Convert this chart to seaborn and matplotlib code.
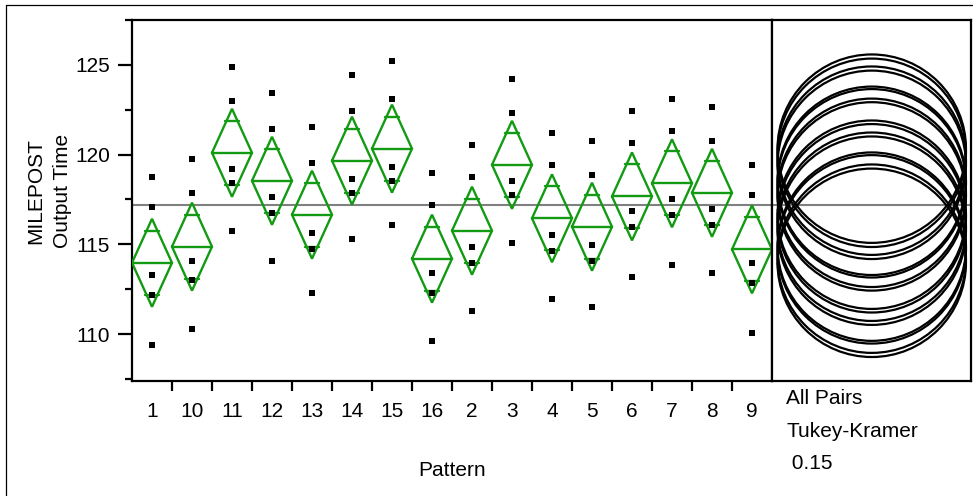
import numpy as np
import pandas as pd
import matplotlib
matplotlib.use("Agg")
import matplotlib.pyplot as plt
import seaborn as sns
from matplotlib.patches import Ellipse
from matplotlib.lines import Line2D
from matplotlib.ticker import FixedLocator

# ---------------- data ----------------
patterns = ["1", "10", "11", "12", "13", "14", "15", "16",
            "2", "3", "4", "5", "6", "7", "8", "9"]

output_time = [
    [118.77, 117.09, 113.29, 112.17, 109.41],   # 1
    [119.77, 117.88, 114.09, 113.01, 110.30],   # 10
    [124.89, 123.00, 119.21, 118.43, 115.76],   # 11
    [123.45, 121.44, 117.65, 116.76, 114.09],   # 12
    [121.55, 119.55, 115.65, 114.76, 112.30],   # 13
    [124.45, 122.44, 118.65, 117.87, 115.31],   # 14
    [125.23, 123.11, 119.32, 118.54, 116.09],   # 15
    [118.99, 117.21, 113.42, 112.30, 109.63],   # 16
    [120.55, 118.77, 114.87, 113.97, 111.30],   # 2
    [124.23, 122.33, 118.54, 117.76, 115.09],   # 3
    [121.22, 119.43, 115.54, 114.64, 111.97],   # 4
    [120.77, 118.88, 114.98, 114.09, 111.52],   # 5
    [122.44, 120.66, 116.87, 115.98, 113.20],   # 6
    [123.11, 121.33, 117.54, 116.65, 113.86],   # 7
    [122.67, 120.77, 116.98, 116.09, 113.42],   # 8
    [119.43, 117.76, 113.97, 112.86, 110.08],   # 9
]

group_means = [113.97, 114.87, 120.10, 118.54, 116.65, 119.66, 120.33, 114.20,
               115.76, 119.43, 116.45, 115.98, 117.67, 118.40, 117.87, 114.72]
ci_half = 2.45          # half height of the means diamonds
overlap_half = 1.78     # offset of the overlap marks
grand_mean = 117.21
circle_radius = 5.25    # comparison circle radius (y units)
y_major = [110, 115, 120, 125]
y_minor = [107.5, 112.5, 117.5, 122.5, 127.5]
y_range = (107.4, 127.5)
notes = ["All Pairs", "Tukey-Kramer", " 0.15"]

# ---------------- styling ----------------
sns.set_theme(style="white")
plt.rcParams['font.family'] = ['Liberation Sans', 'DejaVu Sans']
green = "#129a12"
FS = 15

W, H = 973, 496
fig = plt.figure(figsize=(W / 100, H / 100), dpi=100)
ax = fig.add_axes([132 / W, 1 - 380.7 / H, 640 / W, 360.7 / H])
ax2 = fig.add_axes([772 / W, 1 - 380.7 / H, 199.5 / W, 360.7 / H])

df = pd.DataFrame({
    "Pattern": np.repeat(patterns, [len(v) for v in output_time]),
    "Output Time": np.concatenate(output_time),
})

ax.axhline(grand_mean, color="#808080", lw=1.5, zorder=1)

sns.stripplot(data=df, x="Pattern", y="Output Time", order=patterns,
              jitter=False, marker="s", color="black", size=4.9,
              linewidth=0, ax=ax, zorder=4)

for i, m in enumerate(group_means):
    ax.plot([i - 0.5, i, i + 0.5, i, i - 0.5],
            [m, m + ci_half, m, m - ci_half, m],
            color=green, lw=1.7, zorder=3, solid_joinstyle="miter")
    ax.plot([i - 0.5, i + 0.5], [m, m], color=green, lw=1.7, zorder=3)
    w = 0.5 * (1 - overlap_half / ci_half) + 0.03
    for s in (1, -1):
        ax.plot([i - w, i + w], [m + s * overlap_half] * 2,
                color=green, lw=1.7, zorder=3)

ax.set_xlim(-0.5, len(patterns) - 0.5)
ax.set_ylim(*y_range)
ax.yaxis.set_major_locator(FixedLocator(y_major))
ax.yaxis.set_minor_locator(FixedLocator(y_minor))
ax.set_yticklabels([str(v) for v in y_major])
ax.xaxis.set_minor_locator(FixedLocator(np.arange(0.5, len(patterns) - 1, 1.0)))

ax.tick_params(axis="x", which="major", length=0, pad=15, labelsize=FS,
               labelcolor="black")
ax.tick_params(axis="x", which="minor", bottom=True, direction="out",
               length=7.2, width=1.6, color="black")
ax.tick_params(axis="y", which="major", left=True, direction="out",
               length=10, width=1.6, color="black", pad=6, labelsize=FS,
               labelcolor="black")
ax.tick_params(axis="y", which="minor", left=True, direction="out",
               length=5, width=1.6, color="black")

for sp in ax.spines.values():
    sp.set_visible(True)
    sp.set_color("black")
    sp.set_linewidth(1.6)

ax.set_xlabel("Pattern", fontsize=FS, color="black")
ax.xaxis.set_label_coords(0.5, -0.25)
ax.xaxis.label.set_verticalalignment("center")
ax.set_ylabel("MILEPOST\nOutput Time", fontsize=FS, color="black",
              linespacing=1.55)
ax.yaxis.set_label_coords(-0.093, 0.525)

# ---------------- comparison circles ----------------
ax2.set_xlim(0, 1)
ax2.set_ylim(*y_range)
ax2.set_xticks([])
ax2.set_yticks([])
for sp in ax2.spines.values():
    sp.set_visible(True)
    sp.set_color("black")
    sp.set_linewidth(1.6)
ax2.axhline(grand_mean, color="#808080", lw=1.5, zorder=1)

px_per_y = ax.transData.transform((0, 1))[1] - ax.transData.transform((0, 0))[1]
px_per_x2 = ax2.transData.transform((1, 0))[0] - ax2.transData.transform((0, 0))[0]
circ_w = 2 * circle_radius * px_per_y / px_per_x2
for m in group_means:
    ax2.add_patch(Ellipse((0.5, m), width=circ_w, height=2 * circle_radius,
                          fill=False, edgecolor="black", lw=1.6, zorder=3))

# ---------------- notes and outer frame ----------------
for txt, yy in zip(notes, [399, 431.5, 463.5]):
    fig.text(786.5 / W, 1 - yy / H, txt, fontsize=FS, color="black",
             ha="left", va="center")

fig.add_artist(Line2D([6 / W, 1], [1 - 5 / H, 1 - 5 / H],
                      transform=fig.transFigure, color="black", lw=0.9))
fig.add_artist(Line2D([6 / W, 6 / W], [0, 1 - 5 / H],
                      transform=fig.transFigure, color="black", lw=0.9))

fig.savefig("out.png", dpi=100)
